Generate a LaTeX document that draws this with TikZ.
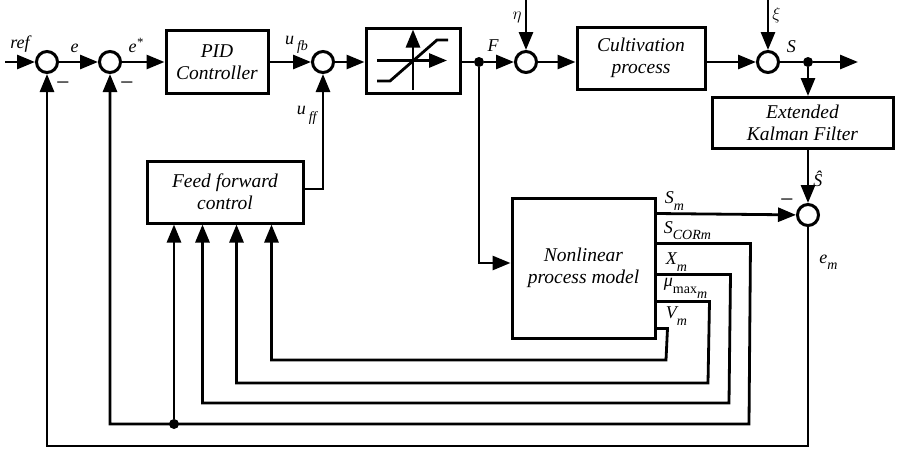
\documentclass[tikz,border=0pt]{standalone}
\usepackage{fontspec}
\setmainfont{Liberation Serif}
\usetikzlibrary{arrows.meta, positioning}
\newcommand{\sbs}[1]{\raisebox{-0.35em}{\fontsize{14}{14}\selectfont #1}}
\tikzstyle{block}=[rectangle, draw, line width=3pt, align=center, inner sep=0pt, font=\fontsize{19.5}{22}\selectfont\itshape]
\tikzstyle{sumpt}=[circle, draw, line width=3pt, minimum size=21pt, inner sep=0pt]
\tikzstyle{joint}=[circle, fill, minimum size=10pt, inner sep=0pt]
\tikzstyle{wire}=[line width=2.8pt]
\tikzstyle{post}=[wire, ->]
\tikzstyle{sig}=[font=\fontsize{18}{20}\selectfont\itshape, inner sep=2pt]
\tikzstyle{minus}=[font=\fontsize{24}{24}\selectfont, inner sep=0pt]

\begin{document}
\begin{tikzpicture}[x=1pt, y=-1pt, >={Triangle[length=18pt, width=14pt]}]
  \useasboundingbox (0,0) rectangle (898,451);

  \node[sumpt] (s1) at (47,62) {};
  \node[sumpt] (s2) at (110,62) {};
  \node[block, minimum width=102pt, minimum height=63pt] (pid) at (217,62) {PID\\Controller};
  \node[sumpt] (s3) at (323,62) {};
  \node[block, minimum width=94pt, minimum height=65pt] (sat) at (413,60.5) {};
  \node[joint] (jF) at (479,62) {};
  \node[sumpt] (s4) at (526,62) {};
  \node[block, minimum width=128pt, minimum height=62pt] (cult) at (641,58) {Cultivation\\process};
  \node[sumpt] (s5) at (768,62) {};
  \node[joint] (jS) at (808,62) {};
  \node[block, minimum width=181pt, minimum height=51pt] (ekf) at (802.5,123) {Extended\\Kalman Filter};
  \node[sumpt] (s6) at (808,215) {};
  \node[block, minimum width=156pt, minimum height=62pt] (ff) at (225,192) {Feed forward\\control};
  \node[block, minimum width=143pt, minimum height=140pt] (model) at (583.5,268) {Nonlinear\\process model};
  \node[joint] (jC) at (174,424) {};

  \coordinate (ref) at (5,62);
  \coordinate (eta) at (526,0);
  \coordinate (xi) at (768,0);
  \coordinate (out) at (858,62);

  \node[minus] at (63,86) {−};
  \node[minus] at (127,86) {−};
  \node[minus] at (787,203) {−};

  \draw[post] (ref) -- node[sig, above=6pt] {ref} (s1);
  \draw[post] (s1) -- node[sig, above=6pt, pos=0.4] {e} (s2);
  \draw[post] (s2) -- node[sig, above=6pt, pos=0.33] {e\textsuperscript{*}} (pid);
  \draw[post] (pid) -- node[sig, above=5pt, pos=0.65] {u\,\sbs{fb}} (s3);
  \draw[post] (s3) -- (s3 -| sat.west);
  \draw[wire] (s3 -| sat.east) -- (jF);
  \draw[post] (jF) -- node[sig, above=7pt, pos=0.3] {F} (s4);
  \draw[post] (eta) -- node[sig, left=1pt, pos=0.35] {$\eta$} (s4);
  \draw[post] (s4) -- (s4 -| cult.west);
  \draw[post] (s4 -| cult.east) -- (s5);
  \draw[post] (xi) -- node[sig, right=1pt, pos=0.3] {$\xi$} (s5);
  \draw[wire] (s5) -- node[sig, above=6pt] {S} (jS);
  \draw[post] (jS) -- (out);
  \draw[post] (jS) -- (jS |- ekf.north);
  \draw[post] (ekf.south -| s6) -- node[sig, right=2pt, pos=0.55] {\^{S}} (s6);

  \begin{scope}[shift={(sat.center)}]
    \draw[post] (0,29.5) -- (0,-31);
    \draw[post] (-36,0) -- (34,0);
    \draw[wire] (-36,20.5) -- (-23,20.5) -- (24,-20.5) -- (35,-20.5);
  \end{scope}

  \draw[post] ([yshift=3pt]ff.east) -| node[sig, left=3pt, pos=0.82] {u\,\sbs{ff}} (s3);
  \draw[post] (jF) |- ([yshift=5pt]model.west);

  \draw[post] ([yshift=-17pt]model.north east) -- node[sig, above right, pos=0, xshift=5pt] {S\sbs{m}} (s6);
  \draw[post] ([yshift=-47pt]model.north east) -- ++(94,0) node[sig, above right, pos=0, xshift=4pt] {S\sbs{CORm}} -- (749,424) -| (s2);
  \draw[post] ([yshift=-78pt]model.north east) -- ++(74,0) node[sig, above right, pos=0, xshift=6pt] {X\sbs{m}} -- (729,403) -| ([xshift=57pt]ff.south west);
  \draw[post] ([yshift=-105pt]model.north east) -- ++(53,0) node[sig, above right, pos=0, xshift=4pt] {μ\textup{\sbs{max\sbs{\itshape m}}}} -- (708,383) -| ([xshift=91pt]ff.south west);
  \draw[post] ([yshift=-132pt]model.north east) -- ++(11,0) node[sig, above right, pos=0, xshift=6pt] {V\sbs{m}} -- (666,360) -| ([xshift=126pt]ff.south west);
  \draw[post] (jC) -- (jC |- ff.south);

  \draw[post] (s6) |- node[sig, right, pos=0.08, xshift=8pt] {e\sbs{m}} (47,446) -- (s1);
\end{tikzpicture}
\end{document}
